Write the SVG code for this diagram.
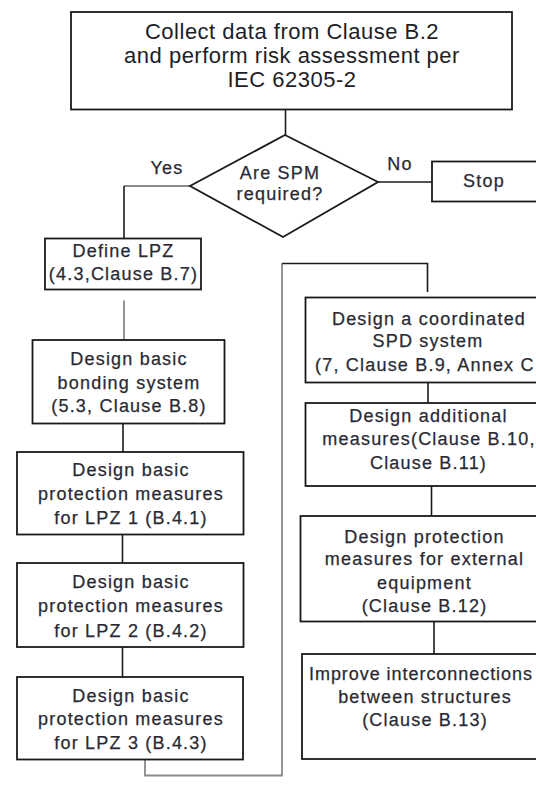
<svg xmlns="http://www.w3.org/2000/svg" width="536" height="786" viewBox="0 0 536 786">
<style>
  .box { fill: #ffffff; stroke: #1a1a1a; stroke-width: 1.8; }
  .t { font-family: "Liberation Sans", Arial, sans-serif; font-size: 18px; letter-spacing: 1.2px; fill: #2a2a33; text-anchor: middle; stroke: #2a2a33; stroke-width: 0.25; }
  .big { font-family: "Liberation Sans", Arial, sans-serif; font-size: 22px; letter-spacing: 0.5px; fill: #1e1e26; text-anchor: middle; }
  .c { fill: none; stroke: #1a1a1a; stroke-width: 1.6; }
  .cg { fill: none; stroke: #8a8a8a; stroke-width: 1.8; }
</style>
<rect width="536" height="786" fill="#ffffff"/>
<g id="connectors">
  <line class="c" x1="285.5" y1="109" x2="285.5" y2="135"/>
  <polyline class="cg" points="190,186 124,186"/>
  <line class="c" x1="124" y1="186" x2="124" y2="238"/>
  <line class="c" x1="378" y1="182" x2="432" y2="182"/>
  <line class="cg" x1="124" y1="300.5" x2="124" y2="340"/>
  <line class="c" x1="123" y1="424" x2="123" y2="452"/>
  <line class="c" x1="122.5" y1="534" x2="122.5" y2="563"/>
  <line class="c" x1="122.5" y1="647" x2="122.5" y2="677"/>
  <polyline class="cg" points="145,760 145,775.5 282,775.5 282,263.5"/>
  <polyline class="c" points="282,263.5 427.5,263.5 427.5,292"/>
  <line class="c" x1="428" y1="382.5" x2="428" y2="403"/>
  <line class="c" x1="431.5" y1="486" x2="431.5" y2="516"/>
  <line class="c" x1="434" y1="621.5" x2="434" y2="654"/>
</g>
<g id="start">
  <rect class="box" x="71" y="12" width="441" height="97.5"/>
  <text class="big" x="292" y="38.5">Collect data from Clause B.2</text>
  <text class="big" x="292" y="62.5">and perform risk assessment per</text>
  <text class="big" x="292" y="87">IEC 62305-2</text>
</g>
<g id="decision">
  <polygon class="box" points="285,135 378,182 283,237 190,186"/>
  <text class="t" x="280" y="178.5">Are SPM</text>
  <text class="t" x="280" y="199.5">required?</text>
  <text class="t" x="167" y="173.5">Yes</text>
  <text class="t" x="400" y="170">No</text>
</g>
<g id="stop">
  <rect class="box" x="432" y="161.5" width="120" height="40"/>
  <text class="t" x="484" y="187">Stop</text>
</g>
<g id="define-lpz">
  <rect class="box" x="45" y="238.5" width="156" height="51"/>
  <text class="t" x="123.5" y="256.5">Define LPZ</text>
  <text class="t" x="123.5" y="280">(4.3,Clause B.7)</text>
</g>
<g id="bonding">
  <rect class="box" x="32.5" y="340" width="192" height="83.5"/>
  <text class="t" x="129" y="365">Design basic</text>
  <text class="t" x="129" y="388.5">bonding system</text>
  <text class="t" x="129" y="411.5">(5.3, Clause B.8)</text>
</g>
<g id="lpz1">
  <rect class="box" x="17" y="452" width="226.5" height="82.5"/>
  <text class="t" x="131" y="476">Design basic</text>
  <text class="t" x="131" y="500">protection measures</text>
  <text class="t" x="131" y="524">for LPZ 1 (B.4.1)</text>
</g>
<g id="lpz2">
  <rect class="box" x="17" y="563" width="226.5" height="84"/>
  <text class="t" x="131" y="588">Design basic</text>
  <text class="t" x="131" y="611.5">protection measures</text>
  <text class="t" x="131" y="637">for LPZ 2 (B.4.2)</text>
</g>
<g id="lpz3">
  <rect class="box" x="17" y="677" width="226" height="82.5"/>
  <text class="t" x="131" y="701.5">Design basic</text>
  <text class="t" x="131" y="725">protection measures</text>
  <text class="t" x="131" y="748.5">for LPZ 3 (B.4.3)</text>
</g>
<g id="spd">
  <rect class="box" x="305.5" y="297.5" width="250" height="85"/>
  <text class="t" x="429" y="325">Design a coordinated</text>
  <text class="t" x="428" y="347">SPD system</text>
  <text class="t" x="315" y="371" style="text-anchor:start">(7, Clause B.9, Annex C</text>
</g>
<g id="additional">
  <rect class="box" x="305.5" y="403" width="250" height="83"/>
  <text class="t" x="428.5" y="421.5">Design additional</text>
  <text class="t" x="429" y="445">measures(Clause B.10,</text>
  <text class="t" x="428.5" y="469">Clause B.11)</text>
</g>
<g id="external">
  <rect class="box" x="300.5" y="516" width="255" height="105.5"/>
  <text class="t" x="424.5" y="543">Design protection</text>
  <text class="t" x="424.5" y="565">measures for external</text>
  <text class="t" x="424.5" y="588.5">equipment</text>
  <text class="t" x="424.5" y="611.5">(Clause B.12)</text>
</g>
<g id="interconnections">
  <rect class="box" x="302" y="654" width="255" height="105"/>
  <text class="t" x="309" y="679.5" style="text-anchor:start;letter-spacing:0.95px">Improve interconnections</text>
  <text class="t" x="425" y="703">between structures</text>
  <text class="t" x="425" y="726">(Clause B.13)</text>
</g>
</svg>
